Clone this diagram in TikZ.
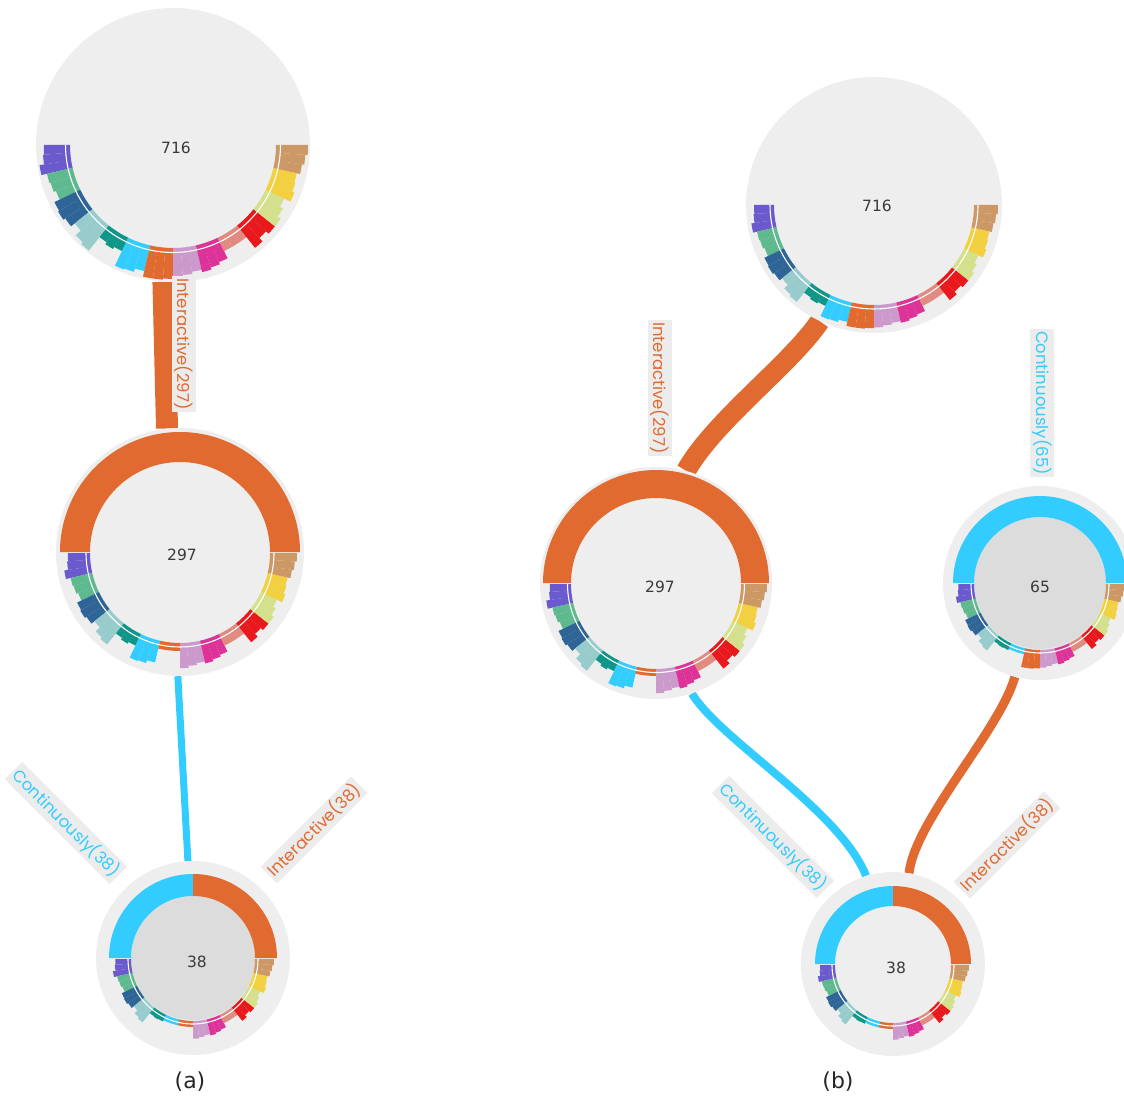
\documentclass[tikz,border=0pt]{standalone}
\usepackage{fontspec}
\setmainfont{DejaVu Sans}
\newfontfamily\labfont{Poppins}
\usetikzlibrary{calc}
\definecolor{cpurple}{HTML}{6A5ACD}
\definecolor{cgreen}{HTML}{5FB98E}
\definecolor{cdblue}{HTML}{2E6496}
\definecolor{clteal}{HTML}{98CCCC}
\definecolor{cteal}{HTML}{0E9688}
\definecolor{ccyan}{HTML}{33CCFF}
\definecolor{corange}{HTML}{E06A30}
\definecolor{clilac}{HTML}{CC99CC}
\definecolor{cmag}{HTML}{DD3399}
\definecolor{csalmon}{HTML}{E08A80}
\definecolor{cred}{HTML}{E8191C}
\definecolor{cygreen}{HTML}{D4E08C}
\definecolor{cyellow}{HTML}{F2D040}
\definecolor{ctan}{HTML}{CC9966}
\definecolor{bgc}{HTML}{EEEEEE}
\definecolor{innerdark}{HTML}{DCDCDC}
\definecolor{labc}{HTML}{ECECEC}
\definecolor{numc}{HTML}{3A3A3A}
\pgfdeclarelayer{bg}
\pgfsetlayers{bg,main}
\newcommand{\pats}{{0.75,0.8,1.0, 0.75,0.7,0.6, 0.85,0.9,0.8, 0.6,0.9,1.0, 0.25,0.35,0.25, 0.95,0.9,0.75, 1,1,0.95, 0.9,0.8,0.7, 0.8,0.7,0.6, 0.25,0.25,0.25, 0.85,0.65,0.8, 0.8,0.65,0.5, 0.8,0.7,0.65, 0.8,0.9,1.0}}
% #1 x, #2 y, #3 inner radius, #4 band width, #5 bar length, #6 multiplier list
\newcommand{\drawchart}[6]{%
 \begin{scope}[shift={(#1,#2)}]
 \foreach \cc [count=\ii from 0] in {cpurple,cgreen,cdblue,clteal,cteal,ccyan,corange,clilac,cmag,csalmon,cred,cygreen,cyellow,ctan}{%
   \pgfmathsetmacro{\aa}{180+\ii*180/14}
   \pgfmathsetmacro{\ab}{\aa+180/14}
   \pgfmathsetmacro{\mm}{{#6}[\ii]}
   \pgfmathsetmacro{\ro}{#3+#4}
   \fill[\cc] (\aa:#3) arc[start angle=\aa,end angle=\ab,radius=#3] -- (\ab:\ro) arc[start angle=\ab,end angle=\aa,radius=\ro] -- cycle;
   \ifdim\mm pt>0pt
   \foreach \jj in {0,1,2}{%
     \pgfmathsetmacro{\sa}{\aa+\jj*60/14}
     \pgfmathsetmacro{\sb}{\sa+60/14}
     \pgfmathsetmacro{\hh}{\ro+\mm*#5*\pats[3*\ii+\jj]}
     \pgfmathsetmacro{\rb}{\ro-0.3}
     \fill[\cc] (\sa:\rb) arc[start angle=\sa,end angle=\sb,radius=\rb] -- (\sb:\hh) arc[start angle=\sb,end angle=\sa,radius=\hh] -- cycle;
   }
   \fi
 }
 \pgfmathsetmacro{\rw}{#3+0.5*#4}
 \draw[white, line width=1.1] (180:\rw) arc[start angle=180,end angle=360,radius=\rw];
 \end{scope}}
% ring: #1 x, #2 y, #3 r, #4 outer, #5 a0, #6 a1, #7 colour
\newcommand{\topring}[7]{%
 \fill[#7] ($(#1,#2)+(#5:#3)$) arc[start angle=#5,end angle=#6,radius=#3] -- ($(#1,#2)+(#6:#4)$) arc[start angle=#6,end angle=#5,radius=#4] -- cycle;}
\tikzset{
 chartbg/.style={circle, fill=bgc, inner sep=0pt, draw=none},
 numtxt/.style={font=\fontsize{15.5}{15.5}\selectfont, text=numc},
 labbox/.style={fill=labc, inner sep=2.5pt, font=\labfont\fontsize{16.5}{16.5}\selectfont},
 captxt/.style={font=\fontsize{22}{22}\selectfont, text=black!85},
 linkc/.style={line cap=butt}
}
\begin{document}
\begin{tikzpicture}[x=1pt,y=1pt]
\useasboundingbox (0,0) rectangle (1124,-1102);
\clip (0,0) rectangle (1124,-1102);
% ---------- (a) ----------
\node[chartbg, minimum size=274] (A716a) at (173,-145) {};
\drawchart{173}{-145}{103}{9}{23}{1,1,1,1,1,1,1,1,1,1,1,1,1,1}
\node[numtxt] (T716a) at (176,-148) {716};

\node[chartbg, minimum size=248] (A297a) at (180,-552) {};
\topring{180}{-552}{90}{120}{0}{180}{corange}
\drawchart{180}{-553}{90}{8}{19}{1,1,1,1,1,1,0,1,1,1,1,1,1,1}
\node[numtxt] (T297a) at (182,-555) {297};

\node[chartbg, minimum size=194] (A38a) at (193,-958) {};
\fill[innerdark] (A38a.center) circle[radius=62];
\topring{193}{-958}{62}{84}{90}{180}{ccyan}
\topring{193}{-958}{62}{84}{0}{90}{corange}
\drawchart{193}{-959}{62}{6}{13}{1,1,1,1,0.4,0,0,1,1,1,1,1,1,1}
\node[numtxt] (T38a) at (197,-962) {38};

\begin{pgfonlayer}{bg}
\draw[linkc, corange, line width=22] (A716a.266.7) -- (A297a.96);
\draw[linkc, ccyan, line width=7] (A297a.269) -- (A38a.93.6);
\end{pgfonlayer}

\node[labbox, text=corange, rotate=-90] (La1) at (184,-344) {Interactive(297)};
\node[labbox, text=ccyan, rotate=-45] (La2) at (66,-823) {Continuously(38)};
\node[labbox, text=corange, rotate=45] (La3) at (314,-830) {Interactive(38)};
\node[captxt] (Ca) at (190,-1082) {(a)};

% ---------- (b) ----------
\node[chartbg, minimum size=256] (A716b) at (874,-205) {};
\drawchart{874}{-205}{100}{8}{16}{1,1,1,1,1,1,1,1,1,1,1,1,1,1}
\node[numtxt] (T716b) at (877,-206) {716};

\node[chartbg, minimum size=232] (A297b) at (656,-583) {};
\topring{656}{-583}{85}{113}{0}{180}{corange}
\drawchart{656}{-584}{85}{7}{19}{1,1,1,1,1,1,0,1,1,1,1,1,1,1}
\node[numtxt] (T297b) at (660,-587) {297};

\node[chartbg, minimum size=194] (A65) at (1040,-583) {};
\fill[innerdark] (A65.center) circle[radius=66];
\topring{1040}{-583}{66}{87}{0}{180}{ccyan}
\drawchart{1040}{-584}{66}{6}{13}{1,1,1,1,0.4,0,1,1,1,1,1,1,1,1}
\node[numtxt] (T65) at (1040,-587) {65};

\node[chartbg, minimum size=184] (A38b) at (893,-964) {};
\topring{893}{-964}{58}{78}{90}{180}{ccyan}
\topring{893}{-964}{58}{78}{0}{90}{corange}
\drawchart{893}{-965}{58}{6}{12}{1,1,1,1,0.4,0,0,1,1,1,1,1,1,1}
\node[numtxt] (T38b) at (896,-968) {38};

\begin{pgfonlayer}{bg}
\draw[linkc, corange, line width=20] (A716b.245.7) .. controls (790,-365) and (715,-420) .. (A297b.75);
\draw[linkc, ccyan, line width=8] (A297b.288.3) .. controls (720,-740) and (840,-810) .. (A38b.107.4);
\draw[linkc, corange, line width=9] (A65.255.5) .. controls (1000,-730) and (915,-820) .. (A38b.80.8);
\end{pgfonlayer}

\node[labbox, text=corange, rotate=-90] (Lb1) at (660,-388) {Interactive(297)};
\node[labbox, text=ccyan, rotate=-90] (Lb2) at (1042,-403) {Continuously(65)};
\node[labbox, text=ccyan, rotate=-45] (Lb3) at (773,-837) {Continuously(38)};
\node[labbox, text=corange, rotate=45] (Lb4) at (1007,-845) {Interactive(38)};
\node[captxt] (Cb) at (838,-1082) {(b)};
\end{tikzpicture}
\end{document}
